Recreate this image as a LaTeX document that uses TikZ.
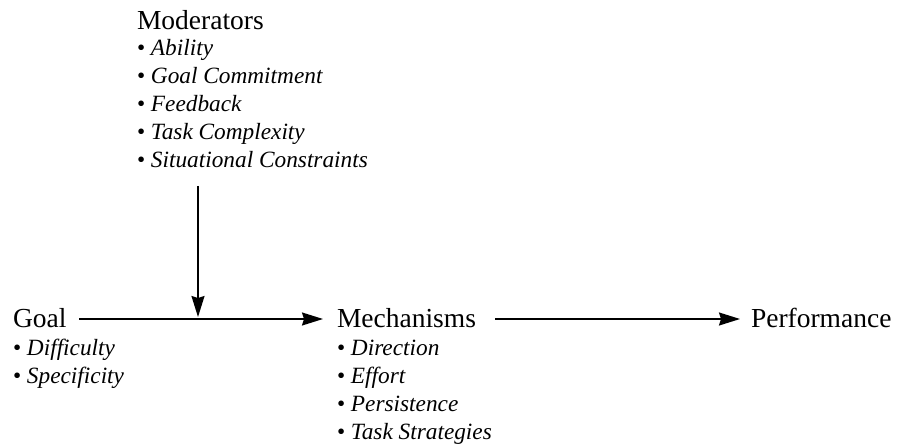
\documentclass[tikz,border=0pt]{standalone}
\usepackage{fontspec}
\setmainfont{Liberation Serif}
\usetikzlibrary{arrows.meta}

\begin{document}
\begin{tikzpicture}[x=1pt,y=1pt,
  title/.style={anchor=base west,inner sep=0pt,outer sep=0pt,
    font=\fontsize{27.5}{30}\selectfont,text height=20pt,text depth=4pt},
  item/.style={anchor=base west,inner sep=0pt,outer sep=0pt,
    font=\fontsize{23.3}{26}\selectfont},
  arr/.style={line width=1.5pt,-{Triangle[length=21pt,width=13pt,inset=2pt]}}]
\useasboundingbox (0,0) rectangle (899,445);

% moderators block
\node[title] (mod) at (137,415) {Moderators};
\node[item] (m1) at (137,389) {\textbullet\ \textit{Ability}};
\node[item] (m2) at (137,361) {\textbullet\ \textit{Goal Commitment}};
\node[item] (m3) at (137,333) {\textbullet\ \textit{Feedback}};
\node[item] (m4) at (137,305) {\textbullet\ \textit{Task Complexity}};
\node[item] (m5) at (137,277) {\textbullet\ \textit{Situational Constraints}};

% goal
\node[title] (goal) at (13,118) {Goal};
\node[item] (g1) at (13,90) {\textbullet\ \textit{Difficulty}};
\node[item] (g2) at (13,62) {\textbullet\ \textit{Specificity}};

% mechanisms
\node[title] (mech) at (337,118) {Mechanisms};
\node[item] (k1) at (337,90) {\textbullet\ \textit{Direction}};
\node[item] (k2) at (337,62) {\textbullet\ \textit{Effort}};
\node[item] (k3) at (337,34) {\textbullet\ \textit{Persistence}};
\node[item] (k4) at (337,6) {\textbullet\ \textit{Task Strategies}};

% performance
\node[title] (perf) at (751,118) {Performance};

% connectors
\coordinate (modtop) at (198,259);
\coordinate (join) at (198,126);
\draw[arr] ([xshift=13pt]goal.east) -- ([xshift=-14pt]mech.west);
\draw[arr] ([xshift=19pt]mech.east) -- ([xshift=-11pt]perf.west);
\draw[arr,shorten >=2pt] (modtop) -- (join);
\end{tikzpicture}
\end{document}
